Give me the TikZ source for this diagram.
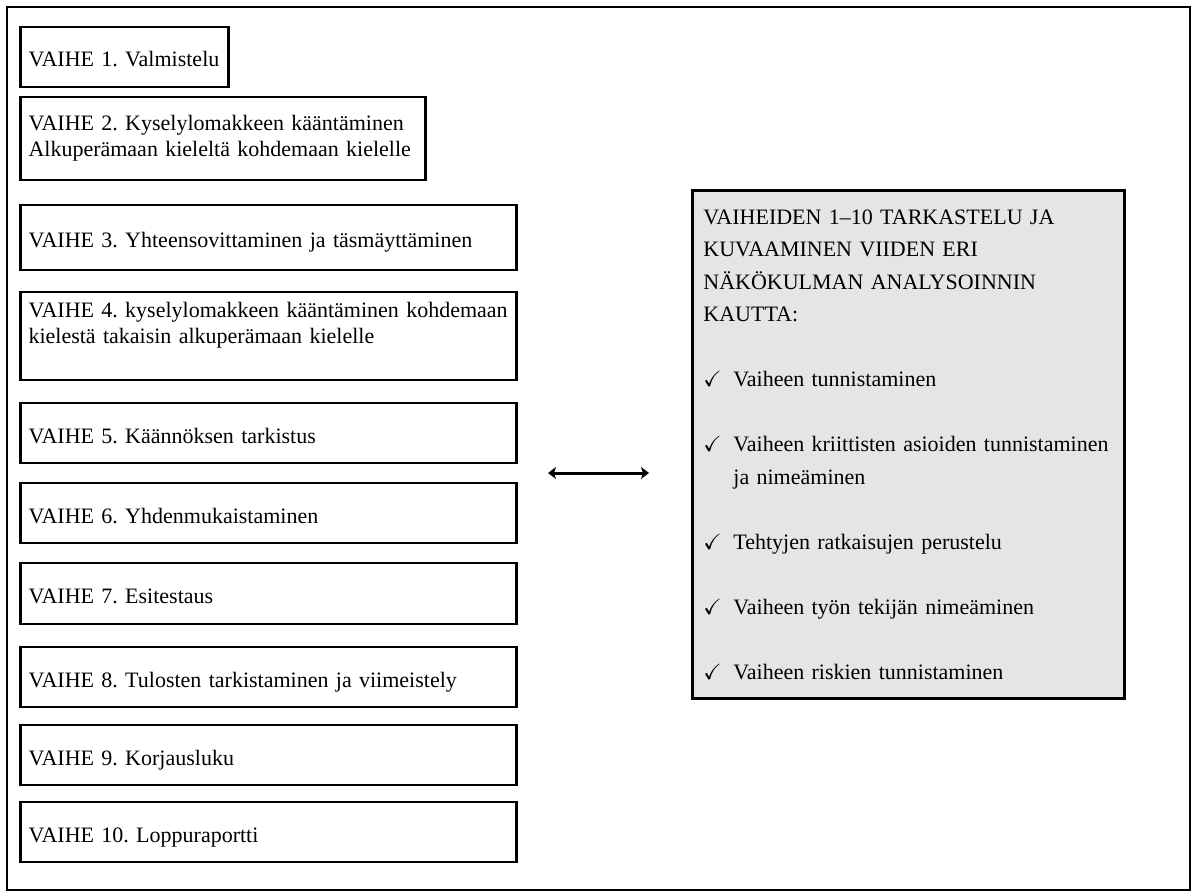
\documentclass[tikz,border=0pt]{standalone}
\usepackage{fontspec}
\setmainfont{Liberation Serif}
\usepackage{amssymb}
\usetikzlibrary{positioning,arrows.meta}
\frenchspacing
\newcommand{\chk}{\makebox[15pt][l]{$\checkmark$}}

\begin{document}
\begin{tikzpicture}[
  x=0.5pt,y=-0.5pt,
  font=\fontsize{11}{13}\selectfont,
  v/.style={draw,line width=1.4pt,anchor=north west,align=left,inner xsep=4pt,inner ysep=0pt,outer sep=0pt},
  one/.style={v,text width=240pt,minimum height=30pt,text height=10pt,text depth=0pt},
  info/.style={draw,line width=1.4pt,fill=black!10,anchor=north west,align=left,
    inner xsep=5.5pt,inner ysep=0pt,text width=205pt,text height=17pt,text depth=237pt,
    font=\fontsize{11}{16.25}\selectfont},
  link/.style={{Stealth[length=4pt,width=6pt,inset=1pt]}-{Stealth[length=4pt,width=6pt,inset=1pt]},line width=1.5pt},
]
\useasboundingbox (0,0) rectangle (1192,893);
\draw[line width=0.8pt] (7,7) rectangle (1190,890);
% --- the ten phases ---
\node[one,text width=96pt] (b1) at (20.5,27) {VAIHE 1. Valmistelu};
\node[v,text width=194.5pt,minimum height=41.5pt,below=5pt of b1.south west,anchor=north west] (b2)
  {VAIHE 2. Kyselylomakkeen kääntäminen\\Alkuperämaan kieleltä kohdemaan kielelle};
\node[one,minimum height=32.5pt,below=12.5pt of b2.south west,anchor=north west] (b3)
  {VAIHE 3. Yhteensovittaminen ja täsmäyttäminen};
\node[v,text width=240pt,text height=12.5pt,text depth=31.5pt,below=11pt of b3.south west,anchor=north west] (b4)
  {VAIHE 4. kyselylomakkeen kääntäminen kohdemaan\\kielestä takaisin alkuperämaan kielelle};
\node[one,below=11.5pt of b4.south west,anchor=north west] (b5) {VAIHE 5. Käännöksen tarkistus};
\node[one,below=10pt of b5.south west,anchor=north west] (b6) {VAIHE 6. Yhdenmukaistaminen};
\node[one,minimum height=30.5pt,below=10pt of b6.south west,anchor=north west] (b7) {VAIHE 7. Esitestaus};
\node[one,below=11.5pt of b7.south west,anchor=north west] (b8) {VAIHE 8. Tulosten tarkistaminen ja viimeistely};
\node[one,below=9pt of b8.south west,anchor=north west] (b9) {VAIHE 9. Korjausluku};
\node[one,below=8.5pt of b9.south west,anchor=north west] (b10) {VAIHE 10. Loppuraportti};
% --- analysis box ---
\node[info] (ana) at (691,189) {VAIHEIDEN 1--10 TARKASTELU JA\\KUVAAMINEN VIIDEN ERI\\NÄKÖKULMAN ANALYSOINNIN\\KAUTTA:\\[16.25pt]
  \chk Vaiheen tunnistaminen\\[16.25pt]
  \chk Vaiheen kriittisten asioiden tunnistaminen\\\hspace*{15pt}ja nimeäminen\\[16.25pt]
  \chk Tehtyjen ratkaisujen perustelu\\[16.25pt]
  \chk Vaiheen työn tekijän nimeäminen\\[16.25pt]
  \chk Vaiheen riskien tunnistaminen};
\coordinate (pl) at (548,473);
\coordinate (pr) at (649,473);
\draw[link] (pl) -- (pr);
\end{tikzpicture}
\end{document}
